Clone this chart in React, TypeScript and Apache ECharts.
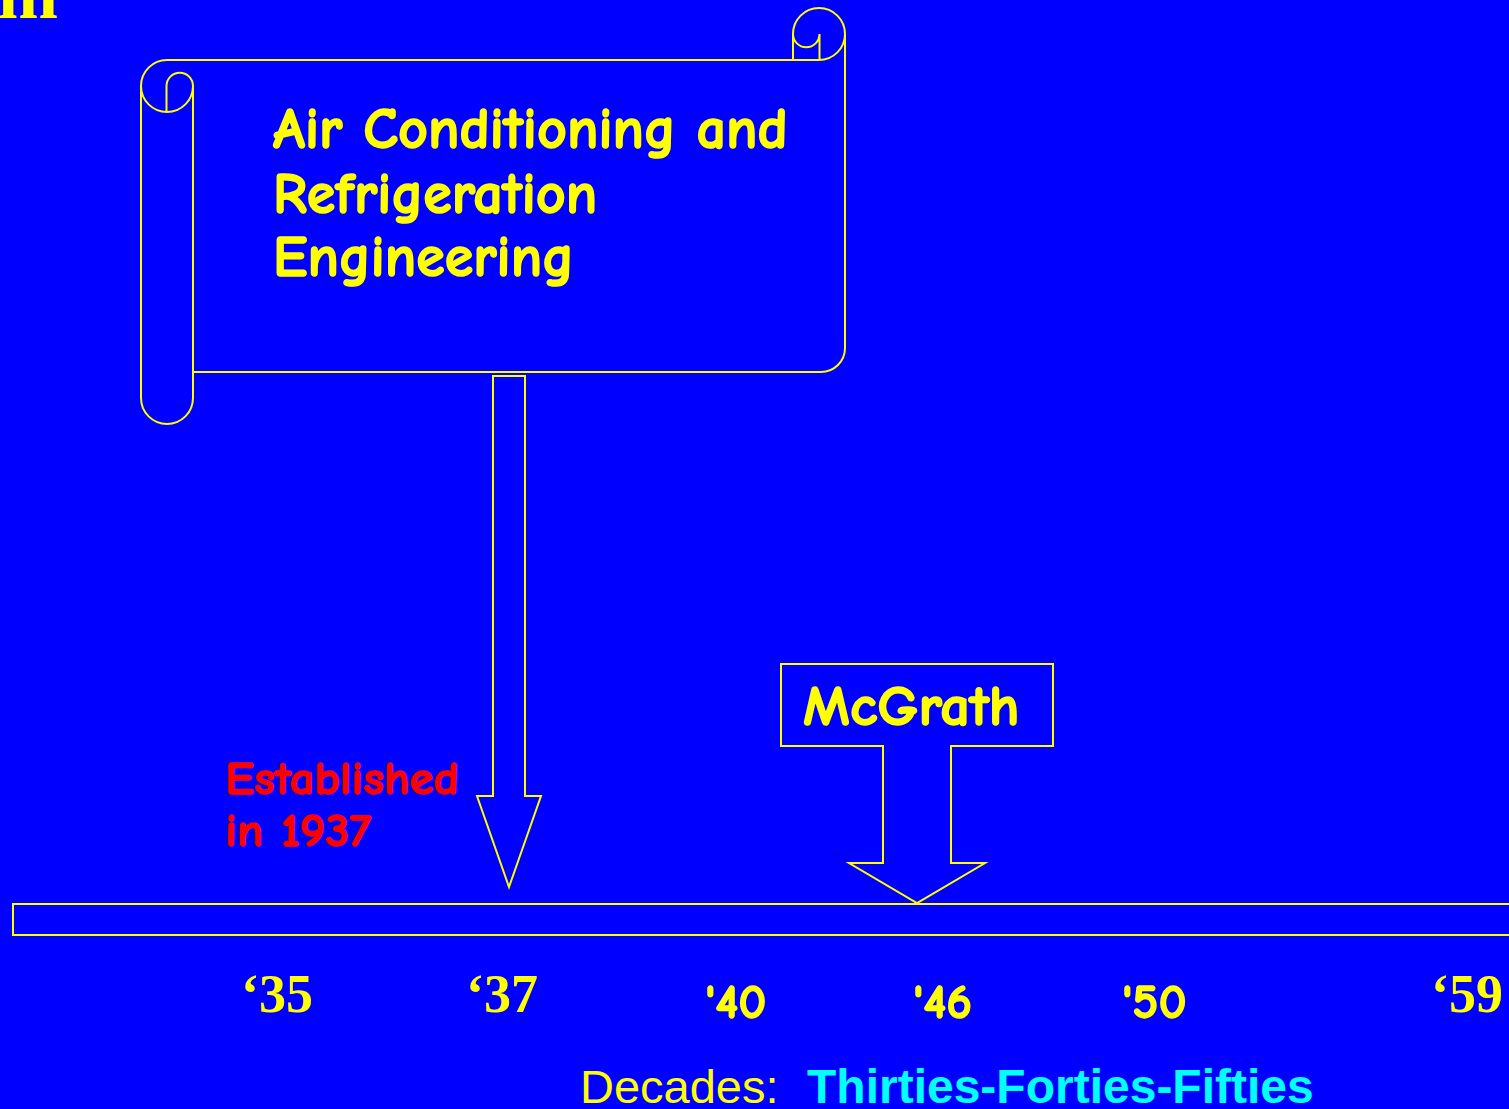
import React, { useEffect, useRef } from "react";
import * as echarts from "echarts";

// ---- content ----
const cornerText = "m";
const headingLines = ["Air Conditioning and", "Refrigeration", "Engineering"];
const establishedLines = ["Established", "in 1937"];
const markerLabel = "McGrath";
const yearLabels = ["\u201835", "\u201837", "'40", "'46", "'50", "\u201859"];
const yearIsSerif = [true, true, false, false, false, true];
const decadesPrefix = "Decades:";
const decadesNames = "Thirties-Forties-Fifties";

// ---- layout (pixels) ----
const yearX = [241, 466, 705, 913, 1122, 1431];
const headingBaselines = [150, 215, 278];
const establishedBaselines = [795, 847];

const YELLOW = "#ffff00";
const BLUE = "#0000ff";
const RED = "#ff0000";
const CYAN = "#00ffff";
const COMIC = "'Comic Sans MS', 'Comic Neue', Lato, sans-serif";
const SERIF = "'Times New Roman', 'Liberation Serif', serif";
const ARIAL = "Arial, 'Liberation Sans', sans-serif";

const scrollPath = [
  // left roll top curl
  "M 167 60 A 26 26 0 1 0 193 86",
  "M 166.5 86 A 13.25 13.25 0 0 1 193 86",
  "M 166.5 86 L 166.5 112",
  // left roll body
  "M 141 86 L 141 398 A 26 26 0 0 0 193 398 L 193 86",
  // top edge
  "M 167 60 L 819.5 60",
  // right curl
  "M 793 34 A 26 26 0 1 1 819 60",
  "M 793 34 L 793 60",
  "M 819.5 34 L 819.5 60",
  "M 793 34 A 13.25 13.25 0 0 0 819.5 34",
  // right edge + bottom
  "M 845 34 L 845 348 A 24 24 0 0 1 821 372 L 193 372",
].join(" ");

let registered = false;
function ensureShapes() {
  if (registered) return;
  echarts.graphic.registerShape("scrollShape", echarts.graphic.extendPath(scrollPath, {}));
  registered = true;
}

function textEl(
  text: string,
  x: number,
  baseline: number,
  size: number,
  family: string,
  weight: string,
  fill: string,
  scaleX = 1,
  boldStroke = 0
) {
  const style: any = {
    text,
    x: 0,
    y: 0,
    fill,
    fontSize: size,
    fontFamily: family,
    fontWeight: weight,
    textAlign: "left",
    textVerticalAlign: "middle",
    verticalAlign: "middle",
  };
  if (boldStroke > 0) {
    style.stroke = fill;
    style.lineWidth = boldStroke;
  }
  return {
    type: "text",
    x,
    y: baseline - 0.35 * size,
    scaleX,
    style,
    silent: true,
  };
}

export default function App() {
  const ref = useRef<HTMLDivElement>(null);
  useEffect(() => {
    if (!ref.current) return;
    ensureShapes();
    const chart = echarts.init(ref.current, undefined, { renderer: "svg" });
    const stroke = { stroke: YELLOW, fill: "none", lineWidth: 2 };
    const elements: any[] = [];

    elements.push(textEl(cornerText, -2, 19, 72, SERIF, "bold", YELLOW));

    elements.push({ type: "scrollShape", x: 0, y: 0, style: { ...stroke }, silent: true });

    headingLines.forEach((t, i) =>
      elements.push(textEl(t, 273, headingBaselines[i], 58, COMIC, "bold", YELLOW, 1.0, 1.5))
    );

    // arrow from scroll to 1937
    elements.push({
      type: "polygon",
      shape: {
        points: [
          [493, 376], [525, 376], [525, 796], [541, 796], [509, 887], [477, 796], [493, 796],
        ],
      },
      style: { ...stroke },
      silent: true,
    });

    // McGrath marker
    elements.push({
      type: "polygon",
      shape: {
        points: [
          [781, 664], [1053, 664], [1053, 746], [951, 746], [951, 863], [985, 863],
          [917, 903], [849, 863], [883, 863], [883, 746], [781, 746],
        ],
      },
      style: { ...stroke },
      silent: true,
    });
    elements.push(textEl(markerLabel, 803, 726, 56, COMIC, "bold", YELLOW, 1.04, 1.5));

    establishedLines.forEach((t, i) =>
      elements.push(textEl(t, 225, establishedBaselines[i], 46, COMIC, "bold", RED, 1.06, 1.3))
    );

    // timeline bar
    elements.push({
      type: "rect",
      shape: { x: 13, y: 904, width: 1510, height: 31 },
      style: { ...stroke },
      silent: true,
    });

    yearLabels.forEach((t, i) => {
      if (yearIsSerif[i]) elements.push(textEl(t, yearX[i], 1013, 54, SERIF, "bold", YELLOW));
      else elements.push(textEl(t, yearX[i], 1019, 48, COMIC, "bold", YELLOW, 1.03, 1.3));
    });

    elements.push(textEl(decadesPrefix, 580, 1103, 47, ARIAL, "normal", YELLOW));
    elements.push(textEl(decadesNames, 807, 1103, 48, ARIAL, "bold", CYAN));

    chart.setOption({
      animation: false,
      backgroundColor: BLUE,
      graphic: { elements },
    });
    return () => chart.dispose();
  }, []);
  return (
    <div
      ref={ref}
      style={{ position: "absolute", left: 0, top: 0, width: 1509, height: 1109 }}
    />
  );
}
